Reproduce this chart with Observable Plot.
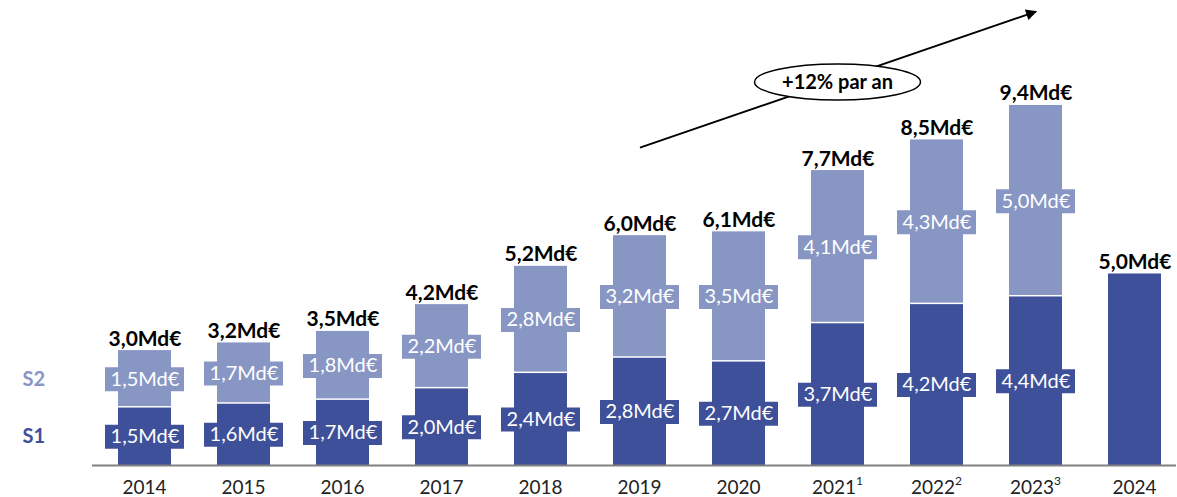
<!DOCTYPE html>
<html>
<head>
<meta charset="utf-8">
<script src="https://cdn.jsdelivr.net/npm/d3@7"></script>
<script src="https://cdn.jsdelivr.net/npm/@observablehq/plot@0.6"></script>
<style>
  html, body { margin: 0; padding: 0; background: #fff; }
  #chart { width: 1177px; height: 497px; }
</style>
</head>
<body>
<div id="chart"></div>
<script>
const years = ["2014","2015","2016","2017","2018","2019","2020","2021","2022","2023","2024"];
const tickLabels = ["2014","2015","2016","2017","2018","2019","2020","2021","2022","2023","2024"];
const tickNotes = ["","","","","","","","1","2","3",""];
const s1 = [1.5,1.6,1.7,2.0,2.4,2.8,2.7,3.7,4.2,4.4,5.0];
const s2 = [1.5,1.7,1.8,2.2,2.8,3.2,3.5,4.1,4.3,5.0,null];
const totals = [3.0,3.2,3.5,4.2,5.2,6.0,6.1,7.7,8.5,9.4,5.0];
const hasS1Label = [true,true,true,true,true,true,true,true,true,true,false];
const growthText = "+12% par an";
const trendStart = {year: "2019", value: 8.3};
const trendEnd = {year: "2023", value: 11.85};
const badge = {year: "2021", value: 10.0};

const dark = "#3e5099";
const light = "#8896c4";
const fmt = d => d.toFixed(1).replace(".", ",") + "Md\u20AC";

const rows = years.map((y, i) => ({year: y, s1: s1[i], s2: s2[i], total: totals[i], s1Label: hasS1Label[i], tick: tickLabels[i], note: tickNotes[i]}));
const withS2 = rows.filter(d => d.s2 != null);
const withS1Label = rows.filter(d => d.s1Label);

const plot = Plot.plot({
  width: 1177,
  height: 497,
  marginLeft: 104,
  marginRight: 1,
  marginTop: 0,
  marginBottom: 32,
  style: {fontFamily: "Lato, 'Open Sans', sans-serif", background: "#fff"},
  x: {domain: years, paddingInner: 0.46, paddingOuter: 0.1, label: null, axis: null},
  y: {domain: [0, 12.14], axis: null},
  marks: [
    Plot.barY(withS2, {x: "year", y1: "s1", y2: "total", fill: light, insetBottom: 1.5}),
    Plot.barY(rows, {x: "year", y1: 0, y2: "s1", fill: dark}),
    Plot.tickY(withS2, {x: "year", y: d => (d.s1 + d.total) / 2, stroke: light, strokeWidth: 24, insetLeft: -13, insetRight: -13}),
    Plot.tickY(withS1Label, {x: "year", y: d => d.s1 / 2, stroke: dark, strokeWidth: 24, insetLeft: -13, insetRight: -13}),
    Plot.text(withS2, {x: "year", y: d => (d.s1 + d.total) / 2, text: d => fmt(d.s2), fill: "white", fontSize: 20}),
    Plot.text(withS1Label, {x: "year", y: d => d.s1 / 2, text: d => fmt(d.s1), fill: "white", fontSize: 20}),
    Plot.text(rows, {x: "year", y: "total", text: d => fmt(d.total), lineAnchor: "bottom", dy: -5, fontSize: 21, fontWeight: "bold", fill: "#000"}),
    Plot.ruleY([0], {stroke: "#808080", strokeWidth: 2, insetLeft: -12}),
    // year tick labels with superscript notes
    (index, scales) => {
      const g = d3.create("svg:g").attr("aria-label", "x-axis tick label");
      for (const d of rows) {
        const t = g.append("text")
          .attr("x", scales.x(d.year) + scales.x.bandwidth() / 2)
          .attr("y", scales.y(0) + 22)
          .attr("dy", "0.35em")
          .attr("text-anchor", "middle")
          .attr("font-size", 19)
          .attr("fill", "#222");
        t.append("tspan").text(d.tick);
        if (d.note) t.append("tspan").attr("font-size", 12).attr("dy", "-0.7em").text(d.note);
      }
      return g.node();
    },
    Plot.link([0], {x1: () => trendStart.year, y1: () => trendStart.value, x2: () => trendEnd.year, y2: () => trendEnd.value, stroke: "#000", strokeWidth: 2}),
    (index, scales) => {
      const cx = scales.x(badge.year) + scales.x.bandwidth() / 2;
      const cy = scales.y(badge.value);
      const g = d3.create("svg:g");
      g.append("ellipse").attr("cx", cx).attr("cy", cy).attr("rx", 83).attr("ry", 18)
        .attr("fill", "#fff").attr("stroke", "#000").attr("stroke-width", 1.5);
      g.append("text").attr("x", cx).attr("y", cy).attr("dy", "0.35em").attr("text-anchor", "middle")
        .attr("font-size", 20).attr("font-weight", "bold").attr("fill", "#000").text(growthText);
      return g.node();
    },
    Plot.text([rows[0]], {y: d => (d.s1 + d.total) / 2, frameAnchor: "left", dx: -82, textAnchor: "start", text: () => "S2", fill: light, fontSize: 20, fontWeight: "bold"}),
    Plot.text([rows[0]], {y: d => d.s1 / 2, frameAnchor: "left", dx: -82, textAnchor: "start", text: () => "S1", fill: dark, fontSize: 20, fontWeight: "bold"})
  ]
});

// filled arrowhead for the trend line
const svg = d3.select(plot);
const defs = svg.insert("defs", ":first-child");
defs.append("marker").attr("id", "trendHead").attr("viewBox", "0 0 10 10")
  .attr("refX", 9).attr("refY", 5).attr("markerWidth", 13).attr("markerHeight", 11)
  .attr("markerUnits", "userSpaceOnUse").attr("orient", "auto")
  .append("path").attr("d", "M0,0L10,5L0,10z").attr("fill", "#000");
svg.selectAll("g[aria-label=link] path").attr("marker-end", "url(#trendHead)");
svg.selectAll("g[aria-label=link] line").attr("marker-end", "url(#trendHead)");
document.getElementById("chart").appendChild(plot);
</script>
</body>
</html>
